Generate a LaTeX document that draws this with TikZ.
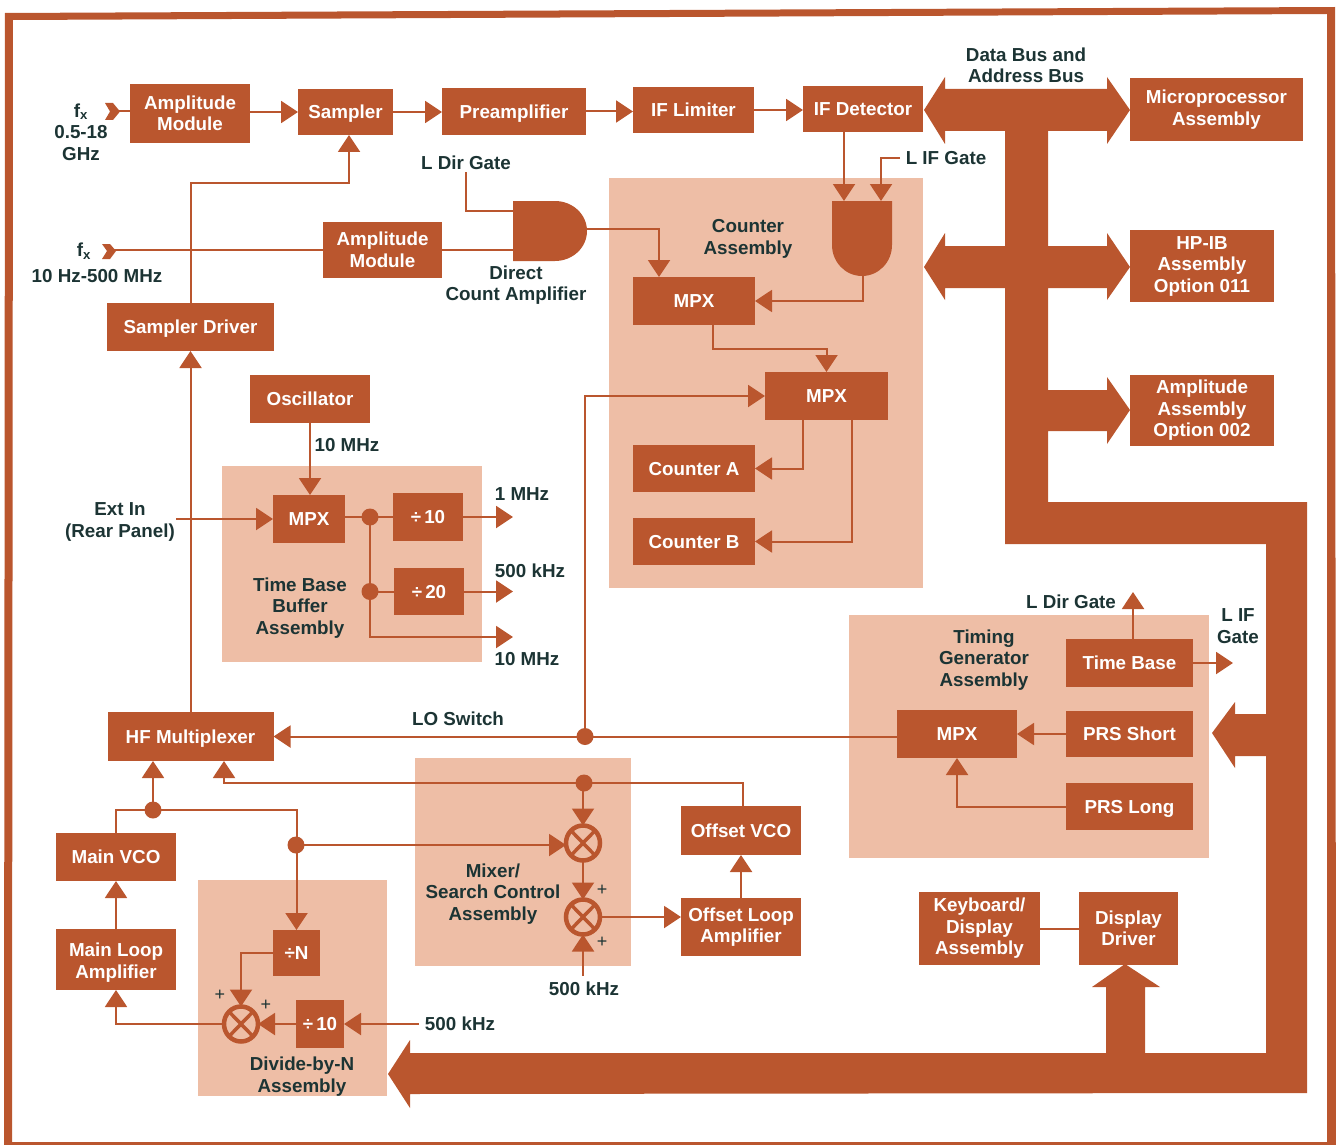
\documentclass[tikz,border=0pt]{standalone}
\usepackage{fontspec}
\usepackage{xcolor}
\setmainfont{Liberation Sans}
\definecolor{brick}{RGB}{186,86,46}
\definecolor{panelc}{RGB}{238,190,166}
\definecolor{inkc}{RGB}{28,52,52}
\usetikzlibrary{shapes.geometric,arrows.meta,positioning}

\begin{document}
\begin{tikzpicture}[x=1pt,y=-1pt,
    block/.style={rectangle, fill=brick, text=white, align=center, inner sep=0pt, outer sep=0pt, font=\fontsize{18.8}{21.5}\selectfont\bfseries},
    single/.style={block, text height=13.5pt, text depth=0pt},
    panel/.style={rectangle, fill=panelc, inner sep=0pt, outer sep=0pt},
    label/.style={text=inkc, align=center, inner sep=0pt, font=\fontsize{18.8}{21.5}\selectfont\bfseries},
    plus/.style={text=inkc, inner sep=0pt, font=\fontsize{18}{18}\selectfont},
    dot/.style={circle, fill=brick, inner sep=0pt, outer sep=0pt, minimum size=17pt},
    mixer/.style={ellipse, draw=brick, fill=panelc, line width=4.5pt, inner sep=0pt, outer sep=0pt, minimum width=34pt, minimum height=35pt},
    wire/.style={draw=brick, line width=2pt},
    sig/.style={wire, -{Triangle[length=17pt,width=22pt]}}]
    \useasboundingbox (0,0) rectangle (1336,1145);

    \fill[brick, even odd rule] (5,13) -- (1335,7) -- (1336,1145) -- (4,1145) -- cycle
        (13,20) -- (1327,14) -- (1327,1142) -- (12,1142) -- cycle;

    \node[panel, minimum width=314pt, minimum height=410pt] (countpanel) at (766,383) {};
    \node[panel, minimum width=260pt, minimum height=196pt] (basepanel) at (352,564) {};
    \node[panel, minimum width=360pt, minimum height=243pt] (timingpanel) at (1029,736.5) {};
    \node[panel, minimum width=216pt, minimum height=208pt] (mixpanel) at (523,862) {};
    \node[panel, minimum width=189pt, minimum height=216pt] (divpanel) at (292.5,988) {};

    \fill[brick] (924,110) -- (945,77) -- (945,89) -- (1107,89) -- (1107,77) -- (1130,110) -- (1107,144) -- (1107,131)
        -- (1048,131) -- (1048,246) -- (1107,246) -- (1107,233) -- (1130,267) -- (1107,300) -- (1107,288)
        -- (1048,288) -- (1048,390) -- (1107,390) -- (1107,377) -- (1130,410) -- (1107,444) -- (1107,431)
        -- (1048,431) -- (1048,502) -- (1307,502) -- (1307,1093) -- (410,1094) -- (410,1108) -- (388,1074)
        -- (410,1040) -- (410,1053) -- (1106,1053) -- (1106,987) -- (1092,987) -- (1125,964) -- (1160,987)
        -- (1145,987) -- (1145,1053) -- (1266,1053) -- (1266,756) -- (1235,756) -- (1235,768) -- (1212,733)
        -- (1235,702) -- (1235,714) -- (1266,714) -- (1266,544) -- (1005,544) -- (1005,288) -- (945,288)
        -- (945,300) -- (924,267) -- (945,233) -- (945,246) -- (1005,246) -- (1005,131) -- (945,131)
        -- (945,144) -- cycle;

    \node[block, minimum width=120pt, minimum height=59pt] (ampone) at (190,113.5) {Amplitude\\Module};
    \node[single, minimum width=95pt, minimum height=46pt] (sampler) at (345.5,112) {Sampler};
    \node[single, minimum width=144pt, minimum height=47pt] (preamp) at (514,111.5) {Preamplifier};
    \node[single, minimum width=121pt, minimum height=46pt] (limiter) at (693.5,110) {IF Limiter};
    \node[single, minimum width=120pt, minimum height=46pt] (detector) at (863,109) {IF Detector};
    \node[block, minimum width=173pt, minimum height=63pt] (micro) at (1216.5,109.5) {Microprocessor\\Assembly};
    \node[block, minimum width=144pt, minimum height=72pt] (hpib) at (1202,266) {HP-IB\\Assembly\\Option 011};
    \node[block, minimum width=144pt, minimum height=71pt] (ampassy) at (1202,410.5) {Amplitude\\Assembly\\Option 002};
    \node[block, minimum width=119pt, minimum height=56pt] (amptwo) at (382.5,250) {Amplitude\\Module};
    \node[single, minimum width=167pt, minimum height=48pt] (samdrv) at (190.5,327) {Sampler Driver};
    \node[single, minimum width=120pt, minimum height=48pt] (osc) at (310,399) {Oscillator};
    \node[single, minimum width=72pt, minimum height=48pt] (mpxbase) at (309,519) {MPX};
    \node[single, minimum width=70pt, minimum height=48pt] (divten) at (428,517) {÷\,10};
    \node[single, minimum width=70pt, minimum height=47pt] (divtwenty) at (429,591.5) {÷\,20};
    \node[single, minimum width=122pt, minimum height=48pt] (mpxa) at (694,301) {MPX};
    \node[single, minimum width=123pt, minimum height=48pt] (mpxb) at (826.5,396) {MPX};
    \node[single, minimum width=122pt, minimum height=47pt] (counta) at (694,468.5) {Counter A};
    \node[single, minimum width=122pt, minimum height=47pt] (countb) at (694,541.5) {Counter B};
    \node[single, minimum width=127pt, minimum height=48pt] (timebase) at (1129.5,663) {Time Base};
    \node[single, minimum width=127pt, minimum height=46pt] (prsshort) at (1129.5,734) {PRS Short};
    \node[single, minimum width=127pt, minimum height=47pt] (prslong) at (1129.5,806.5) {PRS Long};
    \node[single, minimum width=120pt, minimum height=48pt] (mpxtime) at (957,734) {MPX};
    \node[single, minimum width=166pt, minimum height=49pt] (hfmux) at (190.5,736.5) {HF Multiplexer};
    \node[single, minimum width=120pt, minimum height=48pt] (mainvco) at (116,857) {Main VCO};
    \node[block, minimum width=120pt, minimum height=61pt] (mainloop) at (116,959.5) {\rule{0pt}{20pt}Main Loop\\Amplifier};
    \node[single, minimum width=47pt, minimum height=46pt] (divn) at (296.5,953) {÷N};
    \node[single, minimum width=48pt, minimum height=48pt] (divlow) at (320,1024) {÷\,10};
    \node[single, minimum width=120pt, minimum height=49pt] (offvco) at (741,830.5) {Offset VCO};
    \node[block, minimum width=120pt, minimum height=58pt] (offloop) at (741,927) {Offset Loop\\Amplifier};
    \node[block, minimum width=121pt, minimum height=73pt] (keyboard) at (979.5,928.5) {Keyboard/\\Display\\Assembly};
    \node[block, minimum width=99pt, minimum height=73pt] (dispdrv) at (1128.5,928.5) {Display\\Driver};

    \node[mixer] (mixa) at (583,843) {};
    \node[mixer] (mixb) at (583,917) {};
    \node[mixer] (mixn) at (241,1024) {};
    \foreach \m in {mixa,mixb,mixn}
        \draw[brick, line width=3.5pt] (\m.north west) -- (\m.south east) (\m.north east) -- (\m.south west);

    \fill[brick] (513,201) -- (555,201) arc[start angle=90,end angle=-90,x radius=32pt,y radius=30pt] -- (513,261) -- cycle;
    \fill[brick] (832,201) -- (892,201) -- (892,245) arc[start angle=0,end angle=-180,x radius=30pt,y radius=31pt] -- cycle;
    \coordinate (gatedirup) at (513,211);
    \coordinate (gatedirlow) at (513,250);
    \coordinate (gatedirout) at (587,229);
    \coordinate (gateifa) at (844,201);
    \coordinate (gateifb) at (881,201);
    \coordinate (gateifout) at (863,276);

    \node[label] (fxone) at (81,132) {f\textsubscript{x}\\0.5-18\\GHz};
    \node[label] (fxtwo) at (84,251) {f\textsubscript{x}};
    \node[label] (fxrange) at (97,276) {10 Hz-500 MHz};
    \node[label] (ldir) at (466,163) {L Dir Gate};
    \node[label] (lif) at (946,158) {L IF Gate};
    \node[label] (buslabel) at (1026,65.5) {Data Bus and\\Address Bus};
    \node[label] (direct) at (516,285) {Direct\\Count Amplifier};
    \node[label] (countlabel) at (748,239) {Counter\\Assembly};
    \node[label] (tenosc) at (347,445) {10 MHz};
    \node[label] (extin) at (120,522) {Ext In\\(Rear Panel)};
    \node[label] (onemhz) at (522,494) {1 MHz};
    \node[label] (fivehundred) at (530,571) {500 kHz};
    \node[label] (tenmhz) at (527,659) {10 MHz};
    \node[label] (baselabel) at (300,608) {Time Base\\Buffer\\Assembly};
    \node[label] (loswitch) at (458,719) {LO Switch};
    \node[label] (ldirout) at (1071,602) {L Dir Gate};
    \node[label] (lifout) at (1238,626) {L IF\\Gate};
    \node[label] (timinglabel) at (984,660) {Timing\\Generator\\Assembly};
    \node[label] (mixlabel) at (493,894) {Mixer/\\Search Control\\Assembly};
    \node[label] (mixfreq) at (584,989) {500 kHz};
    \node[label] (divfreq) at (460,1024) {500 kHz};
    \node[label] (divlabel) at (302,1076.5) {Divide-by-N\\Assembly};
    \node[plus] (plusa) at (602,890) {+};
    \node[plus] (plusb) at (602,942) {+};
    \node[plus] (plusc) at (220,995) {+};
    \node[plus] (plusd) at (266,1005) {+};

    \node[dot] (dotbasea) at (370,517) {};
    \node[dot] (dotbaseb) at (370,591.5) {};
    \node[dot] (dotlo) at (585,736.5) {};
    \node[dot] (dotoff) at (584,783) {};
    \node[dot] (dotvco) at (153,810) {};
    \node[dot] (dotn) at (296,845) {};

    \fill[brick] (105,103) -- (113,103) -- (120,111.5) -- (113,120) -- (105,120) -- (110,111.5) -- cycle;
    \fill[brick] (102,244) -- (110,244) -- (116,251) -- (110,259) -- (102,259) -- (107,251) -- cycle;
    \coordinate (inone) at (118,111.5);
    \coordinate (intwo) at (114,250);
    \coordinate (extstart) at (176,519);
    \coordinate (sampin) at (349,135);
    \coordinate (mpxain) at (659,277);
    \coordinate (mpxaout) at (713,325);
    \coordinate (mpxbleft) at (803,420);
    \coordinate (mpxbright) at (852,420);
    \coordinate (lifturn) at (900,158);
    \coordinate (baseone) at (513,517);
    \coordinate (basetwo) at (513,591.5);
    \coordinate (basethree) at (513,637);
    \coordinate (hfleft) at (153,761);
    \coordinate (hfright) at (224,761);
    \coordinate (offup) at (743,806);
    \coordinate (dirout) at (1133,592);
    \coordinate (ifout) at (1233,663);

    \draw[wire] (inone) -- (ampone.west |- inone);
    \draw[sig] (ampone.east |- sampler.west) -- (sampler.west);
    \draw[sig] (sampler.east) -- (sampler.east -| preamp.west);
    \draw[sig] (preamp.east) -- (preamp.east -| limiter.west);
    \draw[sig] (limiter.east) -- (limiter.east -| detector.west);
    \draw[wire] (intwo) -- (amptwo.west);
    \draw[wire] (amptwo.east) -- (gatedirlow);
    \draw[wire] (ldir.south) ++(0,2) |- (gatedirup);
    \draw[sig] (gatedirout) -| (mpxain);
    \draw[sig] (samdrv.north) -- ++(0,-120) -| (sampin);
    \draw[sig] (hfmux.north) -- (samdrv.south);
    \draw[sig] (detector.south -| gateifa) -- (gateifa);
    \draw[sig] (lifturn) -| (gateifb);
    \draw[sig] (gateifout) |- (mpxa.east);
    \draw[sig] (mpxaout) -- ++(0,24) -| (mpxb.north);
    \draw[sig] (mpxbleft) |- (counta.east);
    \draw[sig] (mpxbright) |- (countb.east);
    \draw[sig] (dotlo.center) |- (mpxb.west);
    \draw[sig] (osc.south) -- (osc.south |- mpxbase.north);
    \draw[sig] (extstart) -- (mpxbase.west);
    \draw[wire] (mpxbase.east |- divten.west) -- (divten.west);
    \draw[wire] (dotbasea.center) -- (dotbaseb.center) -- (divtwenty.west);
    \draw[sig] (divten.east) -- (baseone);
    \draw[sig] (divtwenty.east) -- (basetwo);
    \draw[sig] (dotbaseb.center) |- (basethree);
    \draw[sig] (mpxtime.west |- hfmux.east) -- (hfmux.east);
    \draw[sig] (timebase.north -| dirout) -- (dirout);
    \draw[sig] (timebase.east) -- (ifout);
    \draw[sig] (prsshort.west) -- (mpxtime.east);
    \draw[sig] (prslong.west) -| (mpxtime.south);
    \draw[sig] (offup) |- (dotoff.center) -| (hfright);
    \draw[sig] (mixa.north |- dotoff.center) -- (mixa.north);
    \draw[sig] (mixa.south) -- (mixb.north);
    \draw[sig] (mixb.east) -- (mixb.east -| offloop.west);
    \draw[sig] (offloop.north) -- (offvco.south);
    \draw[sig] (mixb.south |- mixfreq.north) ++(0,-6) -- (mixb.south);
    \draw[sig] (dotn.center) -- (dotn.center -| mixa.west);
    \draw[sig] (mainvco.north) |- (dotvco.center) -- (hfleft);
    \draw[sig] (dotvco.center) -| (divn.north);
    \draw[sig] (mainloop.north) -- (mainvco.south);
    \draw[sig] (mixn.west) -| (mainloop.south);
    \draw[sig] (divn.west) -| (mixn.north);
    \draw[sig] (divlow.west) -- (mixn.east);
    \draw[sig] (divfreq.west) ++(-6,0) -- (divlow.east);
    \draw[wire] (keyboard.east) -- (dispdrv.west);
\end{tikzpicture}
\end{document}
